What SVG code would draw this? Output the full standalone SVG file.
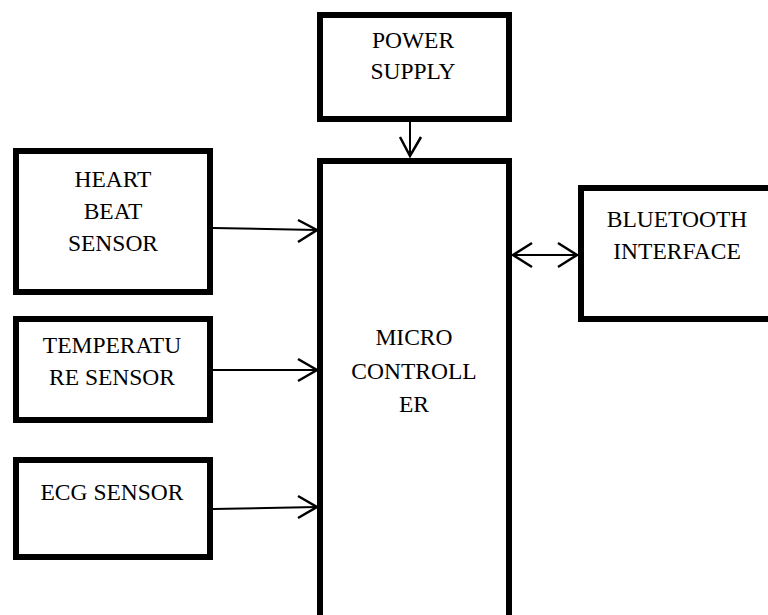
<svg xmlns="http://www.w3.org/2000/svg" width="768" height="615" viewBox="0 0 768 615">
<style>
.box{fill:#fff;stroke:#000;stroke-width:6}
.lbl{font-family:'Liberation Serif','Times New Roman',serif;font-size:23.5px;fill:#000;text-anchor:middle}
.ln{fill:none;stroke:#000;stroke-width:2}
.hd{fill:none;stroke:#000;stroke-width:2.5;stroke-linejoin:miter}
</style>
<rect width="768" height="615" fill="#fff"/>
<g id="connectors">
<line class="ln" x1="410" y1="121" x2="410" y2="156"/>
<polyline class="hd" points="400,137 410,156 421,137"/>
<line class="ln" x1="213" y1="228" x2="317" y2="230"/>
<polyline class="hd" points="298,220 317,230 298,242"/>
<line class="ln" x1="213" y1="370" x2="317" y2="370"/>
<polyline class="hd" points="298,359 317,370 298,381"/>
<line class="ln" x1="213" y1="509" x2="317" y2="507"/>
<polyline class="hd" points="298,496 317,507 298,518"/>
<line class="ln" x1="512" y1="255" x2="578" y2="255"/>
<polyline class="hd" points="532,243 513,255 532,267"/>
<polyline class="hd" points="558,243 577,255 558,267"/>
</g>
<g id="power">
<rect class="box" x="320" y="15" width="189" height="104"/>
<text class="lbl" x="413" y="48">POWER</text>
<text class="lbl" x="413" y="79">SUPPLY</text>
</g>
<g id="heart">
<rect class="box" x="16" y="151" width="194" height="141"/>
<text class="lbl" x="113" y="187">HEART</text>
<text class="lbl" x="113" y="219">BEAT</text>
<text class="lbl" x="113" y="251">SENSOR</text>
</g>
<g id="temperature">
<rect class="box" x="16" y="319" width="194" height="101"/>
<text class="lbl" x="112" y="353">TEMPERATU</text>
<text class="lbl" x="112" y="385">RE SENSOR</text>
</g>
<g id="ecg">
<rect class="box" x="16" y="460" width="194" height="97"/>
<text class="lbl" x="112" y="500">ECG SENSOR</text>
</g>
<g id="micro">
<rect class="box" x="320" y="161" width="189" height="470"/>
<text class="lbl" x="414" y="345">MICRO</text>
<text class="lbl" x="414" y="379">CONTROLL</text>
<text class="lbl" x="414" y="412">ER</text>
</g>
<g id="bluetooth">
<rect class="box" x="581" y="188" width="200" height="131"/>
<text class="lbl" x="677" y="227">BLUETOOTH</text>
<text class="lbl" x="677" y="259">INTERFACE</text>
</g>
</svg>
